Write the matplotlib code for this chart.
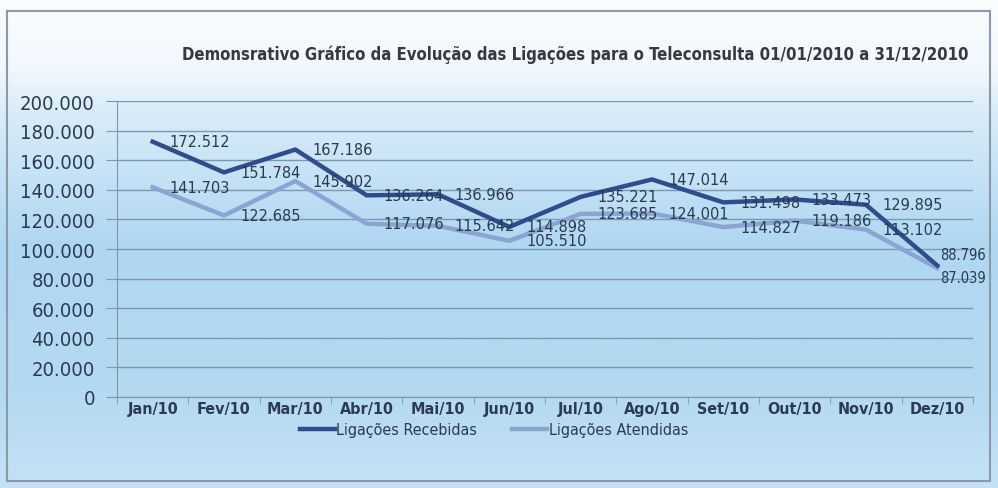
import numpy as np
import matplotlib
matplotlib.use("Agg")
from matplotlib import pyplot as plt
from matplotlib.colors import LinearSegmentedColormap
from matplotlib.patches import Rectangle
from matplotlib.ticker import FuncFormatter, FixedLocator

months = ['Jan/10', 'Fev/10', 'Mar/10', 'Abr/10', 'Mai/10', 'Jun/10',
          'Jul/10', 'Ago/10', 'Set/10', 'Out/10', 'Nov/10', 'Dez/10']
recebidas = [172512, 151784, 167186, 136264, 136966, 114898,
             135221, 147014, 131498, 133473, 129895, 88796]
atendidas = [141703, 122685, 145902, 117076, 115642, 105510,
             123685, 124001, 114827, 119186, 113102, 87039]
yticks = [0, 20000, 40000, 60000, 80000, 100000, 120000, 140000, 160000, 180000, 200000]

title = 'Demonsrativo Gráfico da Evolução das Ligações para o Teleconsulta 01/01/2010 a 31/12/2010'

fam = ['DejaVu Sans']

def br(v, pos=None):
    return '{:,}'.format(int(v)).replace(',', '.')

fig = plt.figure(figsize=(9.98, 4.89), dpi=100)

# fundo em degradê
bg = fig.add_axes([0, 0, 1, 1], zorder=-10)
cmap = LinearSegmentedColormap.from_list('bg', [
    (0.0, '#fbfdfe'), (0.14, '#f2f8fd'), (0.22, '#dbedf9'),
    (0.5, '#b0d7f2'), (0.8, '#b4d9f2'), (1.0, '#c4e2f5')])
grad = np.linspace(0, 1, 256).reshape(-1, 1)
bg.imshow(grad, aspect='auto', cmap=cmap, extent=[0, 1, 0, 1], origin='upper')
bg.add_patch(Rectangle((0.007, 0.015), 0.985, 0.96, fill=False,
                       edgecolor='#8a9aa8', lw=1.5, transform=bg.transAxes))
bg.set_axis_off()

ax = fig.add_axes([117/998, 1 - 398/489, (973-117)/998, (398-102)/489])
ax.patch.set_alpha(0)
x = np.arange(len(months))
l1, = ax.plot(x, recebidas, color='#2f4c8e', lw=3.2, solid_joinstyle='round', zorder=3)
l2, = ax.plot(x, atendidas, color='#8ba5d2', lw=3.2, solid_joinstyle='round', zorder=2)

last = len(x) - 1
for i, (xi, v) in enumerate(zip(x, recebidas)):
    dx, dy, st = (2, 8, 'condensed') if i == last else (12, 0, 'normal')
    ax.annotate(br(v), (xi, v), xytext=(dx, dy), textcoords='offset points',
                ha='left', va='center', fontsize=10.5, fontstretch=st,
                color='#2b3a4e', family=fam, zorder=5)
for i, (xi, v) in enumerate(zip(x, atendidas)):
    dx, dy, st = (2, -7, 'condensed') if i == last else (12, 0, 'normal')
    ax.annotate(br(v), (xi, v), xytext=(dx, dy), textcoords='offset points',
                ha='left', va='center', fontsize=10.5, fontstretch=st,
                color='#2b3a4e', family=fam, zorder=5)

ax.set_xlim(-0.5, len(months) - 0.5)
ax.set_ylim(0, 200000)
ax.set_yticks(yticks)
ax.yaxis.set_major_formatter(FuncFormatter(br))
ax.grid(axis='y', color='#7b98ae', lw=1)
ax.set_axisbelow(True)

ax.set_xticks(x)
ax.set_xticklabels(months, fontweight='bold', fontsize=11.5, color='#2b3a55',
                   family=fam, fontstretch='condensed')
ax.xaxis.set_minor_locator(FixedLocator(np.arange(-0.5, len(months), 1)))
ax.tick_params(axis='x', which='major', length=0, pad=3)
ax.tick_params(axis='x', which='minor', length=5, color='#7b98ae', direction='out')
ax.tick_params(axis='y', length=8, color='#7b98ae', labelsize=14.5, labelcolor='#2b3a4e', pad=8)
for lab in ax.get_yticklabels():
    lab.set_family(fam)
    lab.set_fontstretch('condensed')

for s in ['top', 'right']:
    ax.spines[s].set_visible(False)
ax.spines['left'].set_color('#7b98ae')
ax.spines['bottom'].set_color('#7b98ae')

fig.text(575/998, 1 - 55/489, title, ha='center', va='center', fontsize=12,
         fontweight='bold', color='#333a44', family=fam, fontstretch='condensed')

leg = fig.legend([l1, l2], ['Ligações Recebidas', 'Ligações Atendidas'], loc='center',
                 bbox_to_anchor=(494/998, 1 - 431/489), ncol=2, frameon=False,
                 prop={'family': fam, 'size': 11.5, 'stretch': 'condensed'},
                 handlelength=2.2, handletextpad=0.1, columnspacing=2.2)
for t in leg.get_texts():
    t.set_color('#2b3a55')

fig.savefig('out.png', dpi=100)
